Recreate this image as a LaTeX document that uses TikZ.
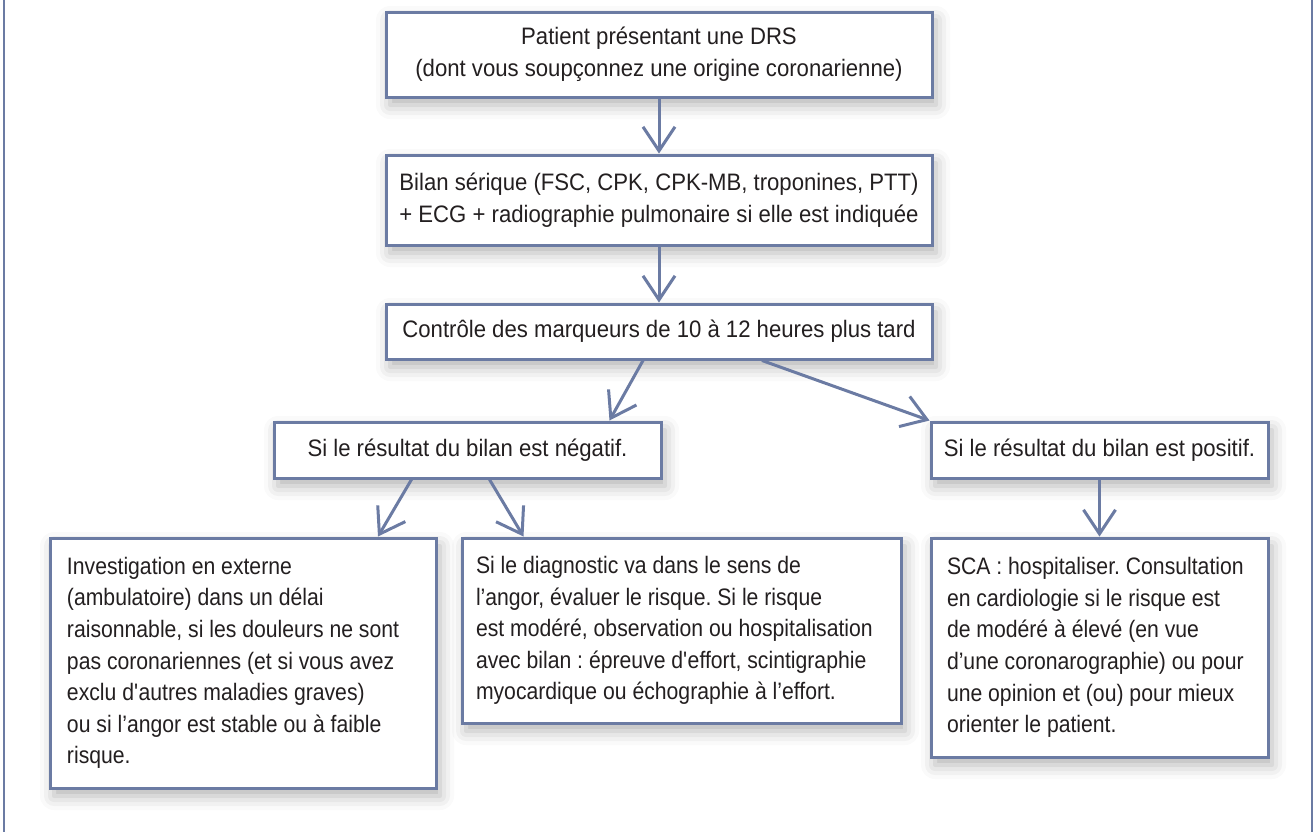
\documentclass[tikz,border=0pt]{standalone}
\usepackage{fontspec}
\setmainfont{Liberation Sans}[FakeStretch=0.93]
\newfontfamily\narrowsans{Liberation Sans}[FakeStretch=0.89]
\usepackage{tikz}
\usetikzlibrary{arrows.meta}
\usetikzlibrary{shadows.blur}

\definecolor{flowblue}{HTML}{6B7BA3}
\definecolor{inkdark}{HTML}{231F20}
\newcommand{\sq}{\textquotesingle}

\begin{document}
\begin{tikzpicture}[x=0.5pt,y=-0.5pt,
        box/.style={draw=flowblue, line width=1.5pt, fill=white, text=inkdark,
            font=\fontsize{11.9pt}{15.8pt}\selectfont\frenchspacing, inner sep=0pt,
            blur shadow={shadow xshift=2pt, shadow yshift=-4pt,
                shadow blur radius=7pt, shadow opacity=30}},
        textbox/.style={box, align=flush left,
            font=\narrowsans\fontsize{11.9pt}{15.8pt}\selectfont\frenchspacing},
        arr/.style={draw=flowblue, line width=1.5pt,
            -{Straight Barb[length=12pt,width=16pt,line width=1.5pt]}},
        frame/.style={draw=flowblue, line width=1pt}]
                \useasboundingbox (0,0) rectangle (1314,832);
                \draw[frame] (4,0) -- (4,832);
                \draw[frame] (1312,0) -- (1312,832);

                % top column
                \node[box, minimum width=273pt, minimum height=42.5pt, align=flush center] (patient) at (659,54.5)
                    {Patient présentant une DRS\\(dont vous soupçonnez une origine coronarienne)};
                \node[box, minimum width=273pt, minimum height=45pt, align=flush center] (bilan) at (659,200)
                    {Bilan sérique (FSC, CPK, CPK-MB, troponines, PTT)\\+ ECG + radiographie pulmonaire si elle est indiquée};
                \node[box, minimum width=273pt, minimum height=27.5pt, align=flush center] (controle) at (659,331.5)
                    {Contrôle des marqueurs de 10 à 12 heures plus tard};

                % results
                \node[box, minimum width=193.5pt, minimum height=28pt] (negatif) at (467.5,450)
                    {Si le résultat du bilan est négatif.};
                \node[box, minimum width=168.5pt, minimum height=28pt] (positif) at (1099.5,450)
                    {Si le résultat du bilan est positif.};

                % outcomes
                \node[textbox, text width=176pt, inner xsep=8.5pt, minimum height=125pt] (externe) at (243,663)
                    {Investigation en externe\\(ambulatoire) dans un délai\\raisonnable, si les douleurs ne sont\\pas coronariennes (et si vous avez\\exclu d\sq autres maladies graves)\\ou si l’angor est stable ou à faible\\risque.};
                \node[textbox, text width=205.5pt, inner xsep=7pt, minimum height=92.5pt] (angor) at (681.5,630.5)
                    {Si le diagnostic va dans le sens de\\l’angor, évaluer le risque. Si le risque\\est modéré, observation ou hospitalisation\\avec bilan : épreuve d\sq effort, scintigraphie\\myocardique ou échographie à l’effort.};
                \node[textbox, text width=152.5pt, inner xsep=8pt, minimum height=109.5pt] (sca) at (1099.5,647.5)
                    {SCA : hospitaliser. Consultation\\en cardiologie si le risque est\\de modéré à élevé (en vue\\d’une coronarographie) ou pour\\une opinion et (ou) pour mieux\\orienter le patient.};

                \draw[arr] (patient.south) -- (bilan.north);
                \draw[arr] (bilan.south) -- (controle.north);
                \draw[arr] ([xshift=-8pt]controle.south) -- ([xshift=71pt]negatif.north);
                \draw[arr] ([xshift=51.5pt]controle.south) -- (positif.north west);
                \draw[arr] ([xshift=-28pt]negatif.south) -- ([xshift=67.5pt]externe.north);
                \draw[arr] ([xshift=11pt]negatif.south) -- ([xshift=-79pt]angor.north);
                \draw[arr] (positif.south) -- (sca.north);
\end{tikzpicture}
\end{document}
